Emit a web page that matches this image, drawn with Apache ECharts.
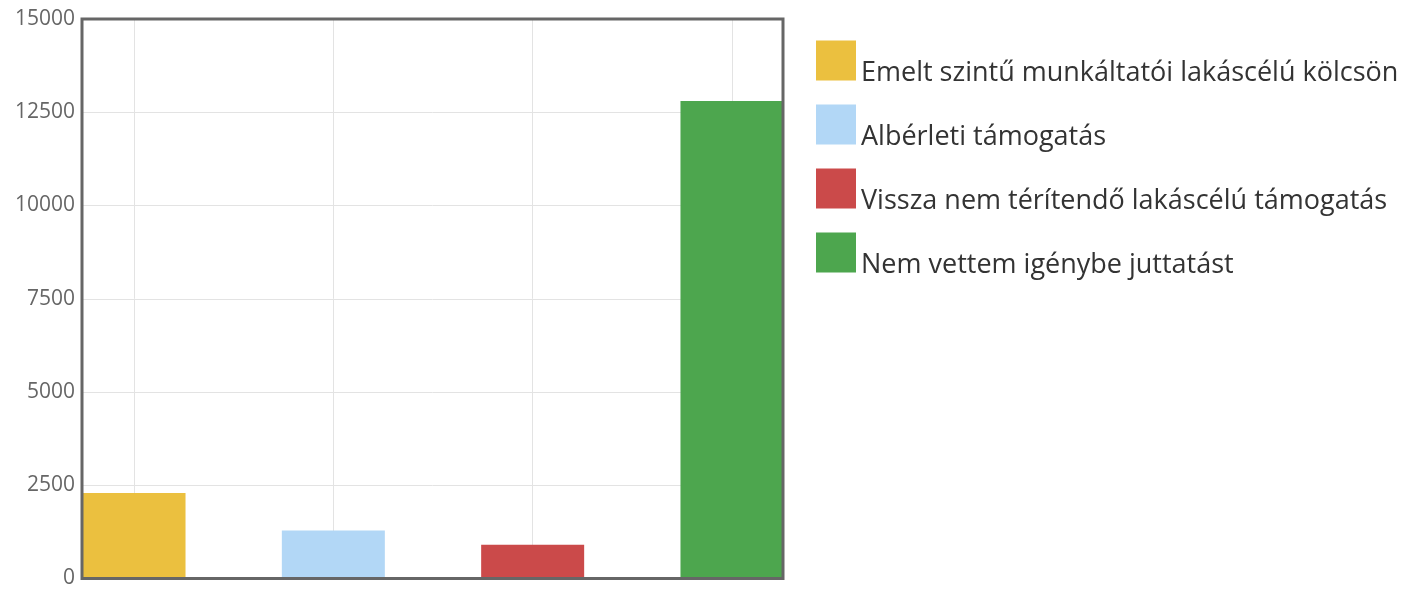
<!DOCTYPE html>
<html><head><meta charset="utf-8">
<script src="https://cdn.jsdelivr.net/npm/echarts@6/dist/echarts.min.js"></script>
<style>html,body{margin:0;padding:0;background:#fff}#c{width:1416px;height:589px}</style>
</head><body><div id="c"></div>
<script>
const categories = ['Emelt szintű munkáltatói lakáscélú kölcsön','Albérleti támogatás','Vissza nem térítendő lakáscélú támogatás','Nem vettem igénybe juttatást'];
const values = [2290, 1290, 905, 12800];
const colors = ['#EBC03F','#B2D7F6','#CB4A4A','#4DA64E'];
const yTicks = [0, 2500, 5000, 7500, 10000, 12500, 15000];

const chart = echarts.init(document.getElementById('c'), null, {renderer:'canvas'});
const series = categories.map((name, i) => ({
  name, type:'bar', barWidth:103, barGap:'-100%',
  itemStyle:{color:colors[i]},
  data:[[i, values[i]]], z:2
}));
chart.setOption({
  animation:false,
  color: colors,
  grid:{left:82, right:633, top:19, bottom:9, show:true, z:5, borderColor:'#666', borderWidth:3, backgroundColor:'rgba(0,0,0,0)', containLabel:false},
  xAxis:{type:'value', min:-0.261, max:3.256,
    axisLine:{show:false}, axisLabel:{show:false},
    axisTick:{show:false, customValues:[0,1,2,3]},
    splitLine:{show:true, lineStyle:{color:'#e3e3e3', width:1}}},
  yAxis:{type:'value', min:yTicks[0], max:yTicks[yTicks.length-1], interval:2500,
    axisLine:{show:false}, axisTick:{show:false},
    axisLabel:{color:'#666', fontFamily:'Open Sans', fontSize:21, margin:7, formatter:v=>String(v)},
    splitLine:{show:true, lineStyle:{color:'#e3e3e3', width:1}}},
  legend:{orient:'vertical', left:811, top:29, itemWidth:40, itemHeight:40, itemGap:11,
    icon:'rect', selectedMode:false,
    formatter:'{t|{name}}',
    textStyle:{rich:{t:{fontFamily:'Open Sans', fontSize:27, color:'#333', lineHeight:26, padding:[26,0,0,0]}}},
    data:categories},
  series
});
</script></body></html>
